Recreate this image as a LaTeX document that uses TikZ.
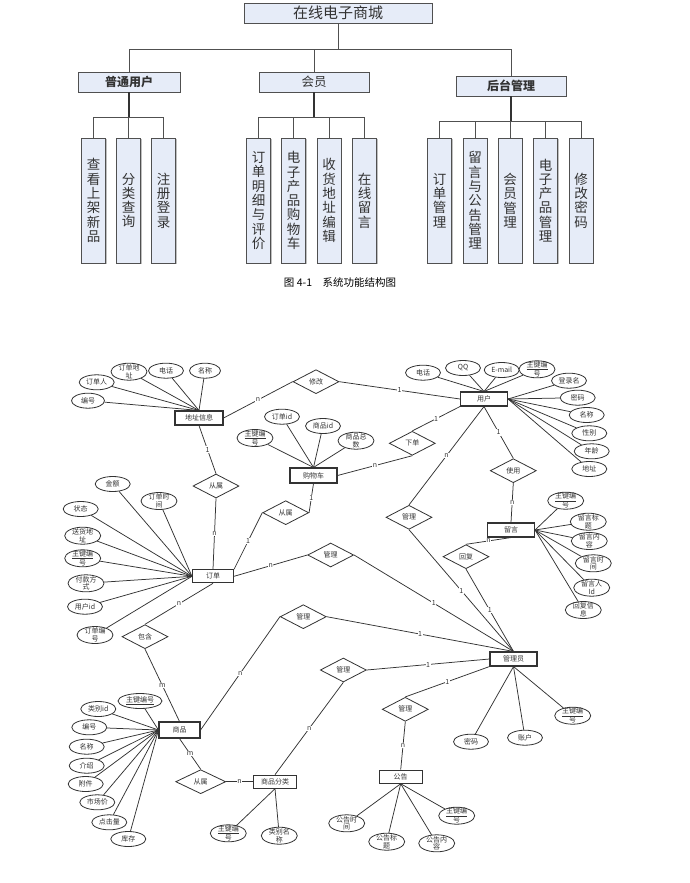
\documentclass[tikz,border=0pt]{standalone}
\usepackage{fontspec}
\newfontfamily\cjk{Noto Sans CJK SC}
\usetikzlibrary{shapes.geometric,shadows}
\definecolor{lc}{HTML}{333333}
\definecolor{bfill}{HTML}{E6ECF8}
\definecolor{bdr}{HTML}{505050}
\newcommand\er{\cjk\fontsize{7}{7.6}\selectfont}
\tikzset{
 tbox/.style={draw=bdr, fill=bfill, line width=0.7pt, inner sep=0pt, text=lc,
   drop shadow={shadow xshift=1.2pt, shadow yshift=-1.2pt, fill=black!50, opacity=0.5}},
 vbox/.style={tbox, minimum width=24pt, minimum height=125pt, align=center,
   font=\cjk\fontsize{13.5}{14.3}\selectfont},
 tline/.style={draw=bdr, line width=0.8pt},
 tthick/.style={draw=black!80, line width=1.3pt},
 lin/.style={draw=lc, line width=0.75pt},
 ent/.style={draw=lc, line width=1.1pt, fill=white, minimum width=47pt, minimum height=14pt, inner sep=0pt, font=\er, text=lc},
 rel/.style={diamond, draw=lc, line width=0.8pt, fill=white, minimum width=46pt, minimum height=24pt, inner sep=0pt, font=\er, text=lc},
 attr/.style={ellipse, draw=lc, line width=0.8pt, fill=white, minimum width=35pt, minimum height=15pt, inner sep=0pt},
 dbl/.style={minimum width=36pt, minimum height=17pt},
 txt/.style={label={[font=\er, text=lc, align=center, inner sep=0pt]center:{#1}}},
 card/.style={fill=white, inner sep=0.6pt, font=\er, text=lc},
}
\begin{document}
\begin{tikzpicture}[x=1pt,y=-1pt]
\useasboundingbox (0,0) rectangle (690,883);
\fill[white] (0,0) rectangle (690,883);

% ---------- function structure ----------
\node[tbox, minimum width=188pt, minimum height=20pt, font=\cjk\fontsize{15}{16}\selectfont] (title) at (338,13) {在线电子商城};
\node[tbox, minimum width=102pt, minimum height=20pt, font=\cjk\bfseries\fontsize{12}{13}\selectfont] (u1) at (129,82) {普通用户};
\node[tbox, minimum width=110pt, minimum height=20pt, font=\cjk\fontsize{12.5}{13}\selectfont] (u2) at (314,82) {会员};
\node[tbox, minimum width=110pt, minimum height=20pt, font=\cjk\bfseries\fontsize{12}{13}\selectfont] (u3) at (511,86) {后台管理};

\node[vbox] (c11) at (93.5,200.5) {查\\看\\上\\架\\新\\品};
\node[vbox] (c12) at (128.5,200.5) {分\\类\\查\\询};
\node[vbox] (c13) at (163.5,200.5) {注\\册\\登\\录};
\node[vbox] (c21) at (258.5,200.5) {订\\单\\明\\细\\与\\评\\价};
\node[vbox] (c22) at (293.5,200.5) {电\\子\\产\\品\\购\\物\\车};
\node[vbox] (c23) at (329,200.5) {收\\货\\地\\址\\编\\辑};
\node[vbox] (c24) at (364.5,200.5) {在\\线\\留\\言};
\node[vbox] (c31) at (439.5,200.5) {订\\单\\管\\理};
\node[vbox] (c32) at (475,200.5) {留\\言\\与\\公\\告\\管\\理};
\node[vbox] (c33) at (510,200.5) {会\\员\\管\\理};
\node[vbox] (c34) at (545.5,200.5) {电\\子\\产\\品\\管\\理};
\node[vbox] (c35) at (581,200.5) {修\\改\\密\\码};

\coordinate (bus) at (0,49);
\coordinate (b1) at (0,117);
\coordinate (b3) at (0,121);
\draw[tline] (title.south) -- (title.south |- bus);
\draw[tline] (u1.north) -- (u1.north |- bus) -- (u3.north |- bus) -- (u3.north);
\draw[tline] (u2.north) -- (u2.north |- bus);

\draw[tthick] (u1.south) -- (u1.south |- b1);
\draw[tline] (c11.north) -- (c11.north |- b1) -- (c13.north |- b1) -- (c13.north);
\draw[tline] (c12.north) -- (c12.north |- b1);

\draw[tthick] (u2.south) -- (u2.south |- b1);
\draw[tline] (c21.north) -- (c21.north |- b1) -- (c24.north |- b1) -- (c24.north);
\draw[tline] (c22.north) -- (c22.north |- b1);
\draw[tline] (c23.north) -- (c23.north |- b1);

\draw[tthick] (u3.south) -- (u3.south |- b3);
\draw[tline] (c31.north) -- (c31.north |- b3) -- (c35.north |- b3) -- (c35.north);
\draw[tline] (c32.north) -- (c32.north |- b3);
\draw[tline] (c33.north) -- (c33.north |- b3);
\draw[tline] (c34.north) -- (c34.north |- b3);

\node[font=\cjk\fontsize{10.5}{12}\selectfont, text=black] (cap) at (340,282) {图 4-1\quad 系统功能结构图};

% ---------- ER diagram: entities ----------
\node[ent, minimum width=48pt] (dz) at (199,418) {地址信息};
\node[ent, minimum height=15pt] (gwc) at (313.5,475.5) {购物车};
\node[ent] (yh) at (484,399) {用户};
\node[ent] (ly) at (511,530) {留言};
\node[ent, minimum width=41pt, minimum height=13pt] (dd) at (213,576.3) {订单};
\node[ent, minimum width=41pt, minimum height=16pt] (sp) at (179.5,730) {商品};
\node[ent, minimum width=43pt, minimum height=13pt] (spfl) at (275,781.7) {商品分类};
\node[ent, minimum width=43pt, minimum height=13pt] (gg) at (400.7,776.7) {公告};
\node[ent] (gly) at (513.5,659) {管理员};

% relationships
\node[rel] (xg) at (316,381.7) {修改};
\node[rel] (cs1) at (216,486) {从属};
\node[rel] (cs2) at (285.7,512.7) {从属};
\node[rel] (xd) at (412.3,443.3) {下单};
\node[rel] (sy) at (513.3,470.7) {使用};
\node[rel] (glu) at (409,517.3) {管理};
\node[rel] (hf) at (466,556.7) {回复};
\node[rel] (glo) at (330.7,555) {管理};
\node[rel] (bh) at (145,636.7) {包含};
\node[rel] (glp) at (303.3,616.7) {管理};
\node[rel] (gl3) at (343.3,670) {管理};
\node[rel] (gl4) at (405.3,709.3) {管理};
\node[rel, minimum width=50pt] (cs3) at (200.7,781.7) {从属};

% attributes of 地址信息
\node[attr, txt={订单人}] (a11) at (96.7,382.3) {};
\node[attr, dbl, txt={订单地\\址}] (a12) at (129,371.7) {};
\node[attr, txt={电话}] (a13) at (166,370.7) {};
\node[attr, minimum width=31pt, txt={名称}] (a14) at (205,370.7) {};
\node[attr, minimum width=33pt, txt={编号}] (a15) at (88,400.7) {};
\foreach \a in {a11,a12,a13,a14,a15} \draw[lin] (\a) -- (dz.north);

% attributes of 购物车
\node[attr, dbl, txt={\underline{主键编}\\号}] (a21) at (255,438) {};
\node[attr, txt={订单id}] (a22) at (282,416.7) {};
\node[attr, txt={商品id}] (a23) at (323,426) {};
\node[attr, dbl, txt={商品总\\数}] (a24) at (356,440.7) {};
\foreach \a in {a21,a22,a23,a24} \draw[lin] (\a) -- (gwc.north);

% attributes of 用户
\node[attr, txt={电话}] (a31) at (423,372.7) {};
\node[attr, txt={QQ}] (a32) at (463,368) {};
\node[attr, txt={E-mail}] (a33) at (501.7,370) {};
\node[attr, dbl, txt={\underline{主键编}\\号}] (a34) at (537,369.3) {};
\foreach \a in {a31,a32,a33,a34} \draw[lin] (\a) -- (yh.north);
\node[attr, txt={登录名}] (a35) at (569,380.7) {};
\node[attr, txt={密码}] (a36) at (577.7,397.7) {};
\node[attr, txt={名称}] (a37) at (586.7,415) {};
\node[attr, txt={性别}] (a38) at (589.3,433.3) {};
\node[attr, txt={年龄}] (a39) at (591.7,451.3) {};
\node[attr, txt={地址}] (a30) at (589.3,469) {};
\foreach \a in {a35,a36,a37,a38,a39,a30} \draw[lin] (\a) -- (yh.east);

% attributes of 留言
\node[attr, dbl, txt={\underline{主键编}\\号}] (a41) at (565.7,500.7) {};
\node[attr, dbl, txt={留言标\\题}] (a42) at (588.3,521.7) {};
\node[attr, dbl, txt={留言内\\容}] (a43) at (589.3,541) {};
\node[attr, dbl, txt={留言时\\间}] (a44) at (593.3,563.3) {};
\node[attr, dbl, txt={留言人\\Id}] (a45) at (591.7,587.7) {};
\node[attr, dbl, txt={回复信\\息}] (a46) at (583.3,610) {};
\foreach \a in {a41,a42,a43,a44,a45,a46} \draw[lin] (\a) -- (ly.east);

% attributes of 订单
\node[attr, txt={金额}] (a51) at (112.7,484) {};
\node[attr, dbl, txt={订单时\\间}] (a52) at (159,501) {};
\node[attr, txt={状态}] (a53) at (80.7,509) {};
\node[attr, dbl, txt={送货地\\址}] (a54) at (82.7,535.7) {};
\node[attr, dbl, txt={\underline{主键编}\\号}] (a55) at (82.7,558.3) {};
\node[attr, dbl, txt={付款方\\式}] (a56) at (86,583.3) {};
\node[attr, txt={用户id}] (a57) at (85,606.7) {};
\node[attr, dbl, txt={订单编\\号}] (a58) at (95,635) {};
\foreach \a in {a51,a52,a53,a54,a55,a56,a57,a58} \draw[lin] (\a) -- (dd.west);

% attributes of 商品
\node[attr, minimum width=44pt, txt={\underline{主键编号}}] (a61) at (140,701) {};
\node[attr, txt={类别id}] (a62) at (98.3,709) {};
\node[attr, txt={编号}] (a63) at (89.3,727.3) {};
\node[attr, txt={名称}] (a64) at (86.7,746.7) {};
\node[attr, txt={介绍}] (a65) at (86.7,765.7) {};
\node[attr, txt={附件}] (a66) at (85.7,784) {};
\node[attr, txt={市场价}] (a67) at (97.3,802.3) {};
\node[attr, txt={点击量}] (a68) at (109.3,822.3) {};
\node[attr, txt={库存}] (a69) at (128.3,839) {};
\foreach \a in {a61,a62,a63,a64,a65,a66,a67,a68,a69} \draw[lin] (\a) -- (sp.west);

% attributes of 商品分类
\node[attr, dbl, txt={\underline{主键编}\\号}] (a71) at (228.3,833.3) {};
\node[attr, dbl, txt={类别名\\称}] (a72) at (279.3,835.7) {};
\foreach \a in {a71,a72} \draw[lin] (\a) -- (spfl.south);

% attributes of 管理员
\node[attr, txt={密码}] (a81) at (471,741.7) {};
\node[attr, txt={账户}] (a82) at (525,737.7) {};
\node[attr, dbl, txt={\underline{主键编}\\号}] (a83) at (572.7,715.7) {};
\foreach \a in {a81,a82,a83} \draw[lin] (\a) -- (gly.south);

% attributes of 公告
\node[attr, dbl, txt={公告时\\间}] (a91) at (346.7,823.3) {};
\node[attr, dbl, txt={公告标\\题}] (a92) at (386.7,841.7) {};
\node[attr, dbl, txt={公告内\\容}] (a93) at (436.7,843.3) {};
\node[attr, dbl, txt={\underline{主键编}\\号}] (a94) at (456.7,815.7) {};
\foreach \a in {a91,a92,a93,a94} \draw[lin] (\a) -- (gg.south);

% relationship connectors
\draw[lin] (dz.east) -- node[card]{n} (xg.west);
\draw[lin] (xg.east) -- node[card]{1} (yh.west);
\draw[lin] (dz.south) -- node[card]{1} (cs1.north);
\draw[lin] (cs1.south) -- node[card]{n} (dd.north);
\draw[lin] (gwc.south) -- node[card]{1} (cs2.east);
\draw[lin] (cs2.west) -- node[card]{1} (dd.north east);
\draw[lin] (dd.east) -- node[card]{n} (glo.west);
\draw[lin] (glo.east) -- node[card]{1} (gly.north);
\draw[lin] (dd.south) -- node[card]{n} (bh.north);
\draw[lin] (bh.south) -- node[card]{m} (sp.north);
\draw[lin] (sp.east) -- node[card]{n} (glp.west);
\draw[lin] (glp.east) -- node[card]{1} (gly.north);
\draw[lin] (sp.south) -- node[card]{m} (cs3.north);
\draw[lin] (cs3.east) -- node[card]{n} (spfl.west);
\draw[lin] (spfl.north) -- node[card]{n} (gl3.south);
\draw[lin] (gl3.east) -- node[card]{1} (gly.west);
\draw[lin] (gl4.north) -- node[card]{1} (gly.south west);
\draw[lin] (gl4.south) -- node[card]{n} (gg.north);
\draw[lin] (yh.south) -- node[card]{1} (sy.north);
\draw[lin] (sy.south) -- node[card]{n} (ly.north);
\draw[lin] (yh.south) -- node[card]{n} (glu.north);
\draw[lin] (glu.south) -- node[card]{1} (gly.north);
\draw[lin] (ly.south) -- node[card]{n} (hf.north);
\draw[lin] (hf.south) -- node[card]{1} (gly.north);
\draw[lin] (xd.north) -- node[card]{1} (yh.south west);
\draw[lin] (xd.south) -- node[card]{n} (gwc.east);
\end{tikzpicture}
\end{document}
